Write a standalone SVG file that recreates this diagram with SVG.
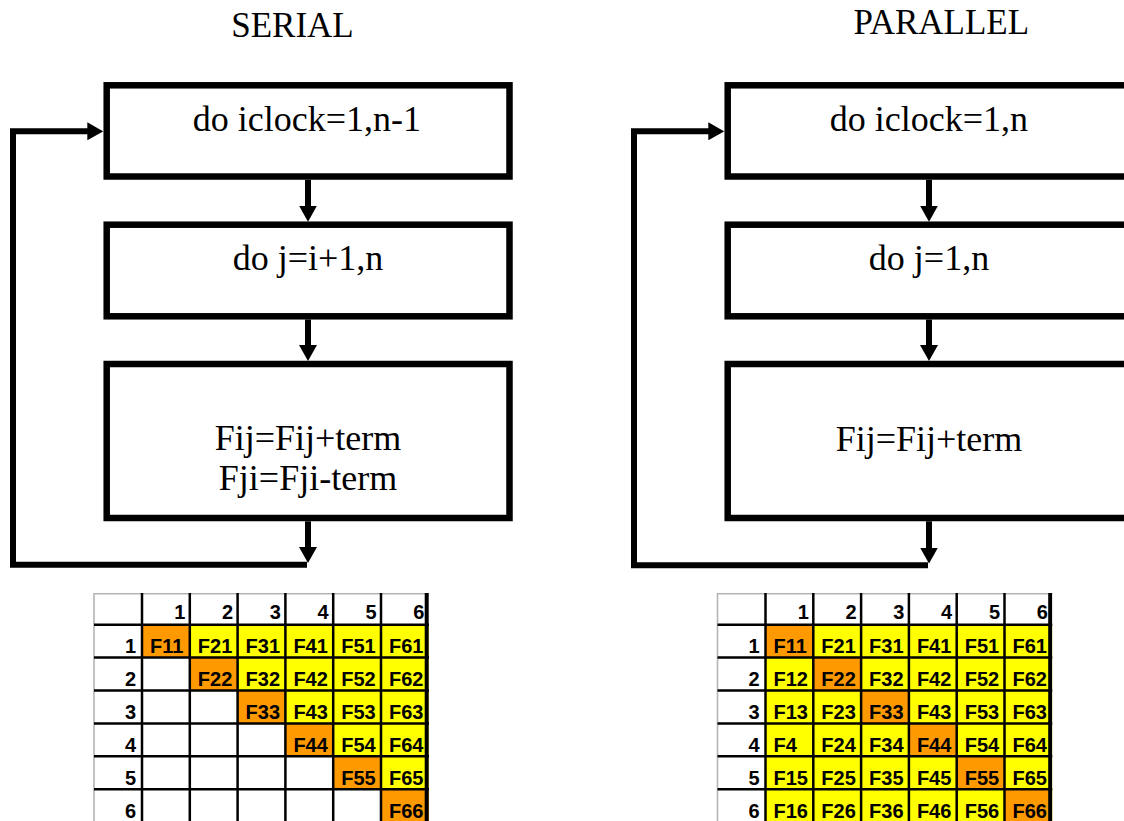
<svg xmlns="http://www.w3.org/2000/svg" width="1124" height="821" viewBox="0 0 1124 821">
  <style>
    .box{fill:#fff;stroke:#000;stroke-width:6.5}
    .lbl{font-family:"Liberation Serif","Times New Roman",serif;font-size:36px;text-anchor:middle;fill:#000}
    .title{font-family:"Liberation Serif","Times New Roman",serif;font-size:35px;text-anchor:middle;fill:#000}
    .conn{fill:none;stroke:#000;stroke-width:6;stroke-linejoin:miter;marker-end:url(#ah)}
    .grid{stroke:#000;stroke-width:2.5;fill:none}
    .edge{stroke:#b4b4b4;stroke-width:1.6;fill:none}
    .o{fill:#ff9900}
    .y{fill:#ffff00}
    .c{font-family:"Liberation Sans Narrow","Liberation Sans",Arial,sans-serif;font-weight:bold;font-size:20px;fill:#000}
    .n{font-family:"Liberation Sans Narrow","Liberation Sans",Arial,sans-serif;font-weight:bold;font-size:20px;fill:#000;text-anchor:end}
  </style>
  <defs>
    <marker id="ah" viewBox="0 0 16 18" refX="8" refY="9" markerWidth="16" markerHeight="18" markerUnits="userSpaceOnUse" orient="auto">
      <path d="M0,0 L16,9 L0,18 z" fill="#000"/>
    </marker>
    <clipPath id="tclip"><rect x="90" y="590" width="339" height="235"/></clipPath>
  </defs>
  <rect width="1124" height="821" fill="#fff"/>

  <text class="title" x="292.5" y="37">SERIAL</text>
  <text class="title" x="941.3" y="33.5">PARALLEL</text>

  <!-- serial loop nest -->
  <g id="s-outer-loop">
    <rect class="box" x="106.7" y="85.3" width="402.8" height="91.2"/>
    <text class="lbl" x="307" y="131">do iclock=1,n-1</text>
  </g>
  <g id="s-inner-loop">
    <rect class="box" x="106.7" y="224.7" width="402.8" height="91.6"/>
    <text class="lbl" x="308" y="269.5">do j=i+1,n</text>
  </g>
  <g id="s-body">
    <rect class="box" x="106.7" y="364" width="402.8" height="154"/>
    <text class="lbl" x="308" y="450">Fij=Fij+term</text>
    <text class="lbl" x="308" y="490">Fji=Fji-term</text>
  </g>

  <!-- parallel loop nest -->
  <g id="p-outer-loop">
    <rect class="box" x="727.7" y="85.3" width="402.8" height="91.2"/>
    <text class="lbl" x="929" y="131">do iclock=1,n</text>
  </g>
  <g id="p-inner-loop">
    <rect class="box" x="727.7" y="224.7" width="402.8" height="91.6"/>
    <text class="lbl" x="929" y="269.5">do j=1,n</text>
  </g>
  <g id="p-body">
    <rect class="box" x="727.7" y="364" width="402.8" height="154"/>
    <text class="lbl" x="929" y="451">Fij=Fij+term</text>
  </g>

  <g id="connectors">
    <path class="conn" d="M308,179.8 V213.7"/>
    <path class="conn" d="M308,319.5 V353"/>
    <path class="conn" d="M308,521.3 V555"/>
    <path class="conn" d="M307,564.7 H13 V131.3 H95.3"/>
    <path class="conn" d="M929,179.8 V213.7"/>
    <path class="conn" d="M929,319.5 V353"/>
    <path class="conn" d="M929,521.3 V555.5"/>
    <path class="conn" d="M928,565.3 H634 V131.3 H716.3"/>
  </g>

  <!-- serial force matrix: upper triangle only -->
  <g id="s-matrix" clip-path="url(#tclip)">
    <rect x="94" y="593" width="335" height="230" fill="#fff"/>
    <rect class="y" x="189.8" y="624.7" width="239" height="32.9"/>
    <rect class="y" x="237.6" y="657.6" width="191.2" height="32.9"/>
    <rect class="y" x="285.4" y="690.5" width="143.4" height="32.9"/>
    <rect class="y" x="333.2" y="723.4" width="95.6" height="32.9"/>
    <rect class="y" x="381" y="756.3" width="47.8" height="32.9"/>
    <rect class="o" x="142" y="624.7" width="47.8" height="32.9"/>
    <rect class="o" x="189.8" y="657.6" width="47.8" height="32.9"/>
    <rect class="o" x="237.6" y="690.5" width="47.8" height="32.9"/>
    <rect class="o" x="285.4" y="723.4" width="47.8" height="32.9"/>
    <rect class="o" x="333.2" y="756.3" width="47.8" height="32.9"/>
    <rect class="o" x="381" y="789.2" width="47.8" height="32.9"/>
    <path class="edge" d="M94,823 V593.8 H429"/>
    <path class="grid" d="M142,593 V823 M189.8,593 V823 M237.6,593 V823 M285.4,593 V823 M333.2,593 V823 M381,593 V823 M94,624.7 H429 M94,657.6 H429 M94,690.5 H429 M94,723.4 H429 M94,756.3 H429 M94,789.2 H429"/>
    <text class="n" x="185.3" y="619">1</text>
    <text class="n" x="233.1" y="619">2</text>
    <text class="n" x="280.9" y="619">3</text>
    <text class="n" x="328.7" y="619">4</text>
    <text class="n" x="376.5" y="619">5</text>
    <text class="n" x="424.3" y="619">6</text>
    <text class="n" x="136" y="653">1</text>
    <text class="n" x="136" y="686">2</text>
    <text class="n" x="136" y="719">3</text>
    <text class="n" x="136" y="752">4</text>
    <text class="n" x="136" y="785">5</text>
    <text class="n" x="136" y="818">6</text>
    <text class="c" x="150" y="653">F11</text>
    <text class="c" x="197.8" y="653">F21</text>
    <text class="c" x="245.6" y="653">F31</text>
    <text class="c" x="293.4" y="653">F41</text>
    <text class="c" x="341.2" y="653">F51</text>
    <text class="c" x="389" y="653">F61</text>
    <text class="c" x="197.8" y="686">F22</text>
    <text class="c" x="245.6" y="686">F32</text>
    <text class="c" x="293.4" y="686">F42</text>
    <text class="c" x="341.2" y="686">F52</text>
    <text class="c" x="389" y="686">F62</text>
    <text class="c" x="245.6" y="719">F33</text>
    <text class="c" x="293.4" y="719">F43</text>
    <text class="c" x="341.2" y="719">F53</text>
    <text class="c" x="389" y="719">F63</text>
    <text class="c" x="293.4" y="752">F44</text>
    <text class="c" x="341.2" y="752">F54</text>
    <text class="c" x="389" y="752">F64</text>
    <text class="c" x="341.2" y="785">F55</text>
    <text class="c" x="389" y="785">F65</text>
    <text class="c" x="389" y="818">F66</text>
    <rect x="424.7" y="593" width="4" height="230" fill="#000"/>
  </g>

  <!-- parallel force matrix: full square -->
  <g id="p-matrix" transform="translate(623.5,0)">
    <g clip-path="url(#tclip)">
      <rect x="94" y="593" width="335" height="230" fill="#fff"/>
      <rect class="y" x="142" y="624.7" width="286.8" height="197.4"/>
      <rect class="o" x="142" y="624.7" width="47.8" height="32.9"/>
      <rect class="o" x="189.8" y="657.6" width="47.8" height="32.9"/>
      <rect class="o" x="237.6" y="690.5" width="47.8" height="32.9"/>
      <rect class="o" x="285.4" y="723.4" width="47.8" height="32.9"/>
      <rect class="o" x="333.2" y="756.3" width="47.8" height="32.9"/>
      <rect class="o" x="381" y="789.2" width="47.8" height="32.9"/>
      <path class="edge" d="M94,823 V593.8 H429"/>
      <path class="grid" d="M142,593 V823 M189.8,593 V823 M237.6,593 V823 M285.4,593 V823 M333.2,593 V823 M381,593 V823 M94,624.7 H429 M94,657.6 H429 M94,690.5 H429 M94,723.4 H429 M94,756.3 H429 M94,789.2 H429"/>
      <text class="n" x="185.3" y="619">1</text>
      <text class="n" x="233.1" y="619">2</text>
      <text class="n" x="280.9" y="619">3</text>
      <text class="n" x="328.7" y="619">4</text>
      <text class="n" x="376.5" y="619">5</text>
      <text class="n" x="424.3" y="619">6</text>
      <text class="n" x="136" y="653">1</text>
      <text class="n" x="136" y="686">2</text>
      <text class="n" x="136" y="719">3</text>
      <text class="n" x="136" y="752">4</text>
      <text class="n" x="136" y="785">5</text>
      <text class="n" x="136" y="818">6</text>
      <text class="c" x="150" y="653">F11</text>
      <text class="c" x="197.8" y="653">F21</text>
      <text class="c" x="245.6" y="653">F31</text>
      <text class="c" x="293.4" y="653">F41</text>
      <text class="c" x="341.2" y="653">F51</text>
      <text class="c" x="389" y="653">F61</text>
      <text class="c" x="150" y="686">F12</text>
      <text class="c" x="197.8" y="686">F22</text>
      <text class="c" x="245.6" y="686">F32</text>
      <text class="c" x="293.4" y="686">F42</text>
      <text class="c" x="341.2" y="686">F52</text>
      <text class="c" x="389" y="686">F62</text>
      <text class="c" x="150" y="719">F13</text>
      <text class="c" x="197.8" y="719">F23</text>
      <text class="c" x="245.6" y="719">F33</text>
      <text class="c" x="293.4" y="719">F43</text>
      <text class="c" x="341.2" y="719">F53</text>
      <text class="c" x="389" y="719">F63</text>
      <text class="c" x="150" y="752">F4</text>
      <text class="c" x="197.8" y="752">F24</text>
      <text class="c" x="245.6" y="752">F34</text>
      <text class="c" x="293.4" y="752">F44</text>
      <text class="c" x="341.2" y="752">F54</text>
      <text class="c" x="389" y="752">F64</text>
      <text class="c" x="150" y="785">F15</text>
      <text class="c" x="197.8" y="785">F25</text>
      <text class="c" x="245.6" y="785">F35</text>
      <text class="c" x="293.4" y="785">F45</text>
      <text class="c" x="341.2" y="785">F55</text>
      <text class="c" x="389" y="785">F65</text>
      <text class="c" x="150" y="818">F16</text>
      <text class="c" x="197.8" y="818">F26</text>
      <text class="c" x="245.6" y="818">F36</text>
      <text class="c" x="293.4" y="818">F46</text>
      <text class="c" x="341.2" y="818">F56</text>
      <text class="c" x="389" y="818">F66</text>
      <rect x="424.7" y="593" width="4" height="230" fill="#000"/>
    </g>
  </g>
</svg>
